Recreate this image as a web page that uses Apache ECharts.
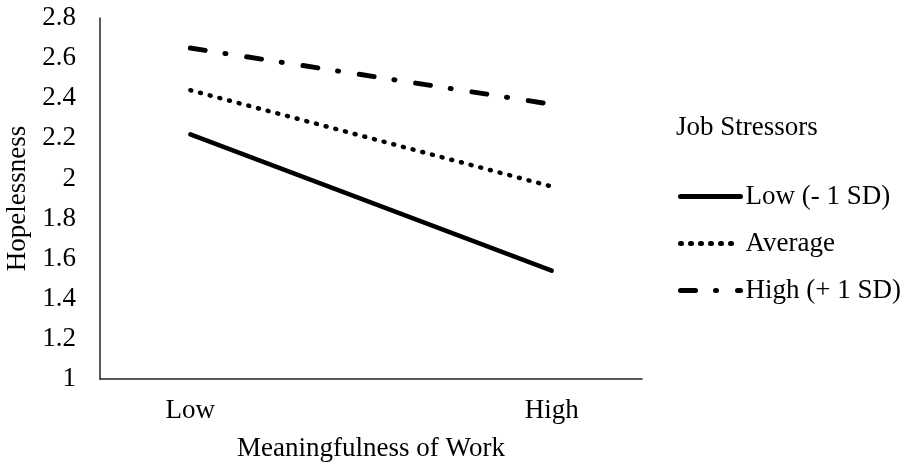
<!DOCTYPE html>
<html>
<head>
<meta charset="utf-8">
<script src="https://cdn.jsdelivr.net/npm/echarts@6/dist/echarts.min.js"></script>
<style>
  html, body { margin: 0; padding: 0; background: #fff; }
  #chart { width: 906px; height: 470px; }
</style>
</head>
<body>
<div id="chart"></div>
<script>
// 数据
var categories = ['Low', 'High'];
var lowStress = [2.22, 1.54];
var avgStress = [2.44, 1.96];
var highStress = [2.65, 2.37];
var seriesNames = ['Low (- 1 SD)', 'Average', 'High (+ 1 SD)'];

var font = 'Liberation Serif, Times New Roman, serif';
var fs = 27;

function toPoints(values) {
    return values.map(function (v, i) { return [i, v]; });
}

var myChart = echarts.init(document.getElementById('chart'));
myChart.setOption({
    animation: false,
    textStyle: { fontFamily: font, color: '#000' },
    title: {
        text: 'Job Stressors',
        left: 676,
        top: 114,
        padding: 0,
        textStyle: { fontFamily: font, fontSize: fs, lineHeight: fs, fontWeight: 'normal', color: '#000' }
    },
    legend: {
        data: seriesNames,
        orient: 'vertical',
        left: 678,
        top: 183,
        padding: 0,
        itemWidth: 60,
        itemHeight: 14,
        itemGap: 20,
        itemStyle: { opacity: 0 },
        lineStyle: { width: 5, cap: 'round' },
        textStyle: { fontFamily: font, fontSize: fs, lineHeight: fs, color: '#000' }
    },
    grid: { left: 100, right: 264, top: 18, bottom: 91, outerBoundsMode: 'none' },
    xAxis: {
        type: 'value',
        min: -0.25,
        max: 1.25,
        name: 'Meaningfulness of Work',
        nameLocation: 'middle',
        nameGap: 56,
        nameTextStyle: { fontFamily: font, fontSize: fs, color: '#000' },
        axisLine: { onZero: false, lineStyle: { color: '#222', width: 1.5 } },
        axisTick: { show: false },
        splitLine: { show: false },
        axisLabel: {
            customValues: [0, 1],
            formatter: function (v) { return categories[v]; },
            margin: 18,
            fontFamily: font,
            fontSize: fs,
            color: '#000'
        }
    },
    yAxis: {
        type: 'value',
        min: 1,
        max: 2.8,
        interval: 0.2,
        name: 'Hopelessness',
        nameLocation: 'middle',
        nameGap: 65,
        nameTextStyle: { fontFamily: font, fontSize: fs, color: '#000' },
        axisLine: { show: true, onZero: false, lineStyle: { color: '#222', width: 1.5 } },
        axisTick: { show: false },
        splitLine: { show: false },
        axisLabel: { margin: 24, fontFamily: font, fontSize: fs, color: '#000' }
    },
    series: [
        {
            name: seriesNames[0],
            type: 'line',
            symbol: 'none',
            data: toPoints(lowStress),
            itemStyle: { color: '#000' },
            lineStyle: { color: '#000', width: 4.5, cap: 'round' }
        },
        {
            name: seriesNames[1],
            type: 'line',
            symbol: 'none',
            data: toPoints(avgStress),
            itemStyle: { color: '#000' },
            lineStyle: { color: '#000', width: 4.5, cap: 'round', type: [1, 9] }
        },
        {
            name: seriesNames[2],
            type: 'line',
            symbol: 'none',
            data: toPoints(highStress),
            itemStyle: { color: '#000' },
            lineStyle: { color: '#000', width: 5, cap: 'round', type: [15, 20, 1, 21] }
        }
    ]
});
</script>
</body>
</html>
